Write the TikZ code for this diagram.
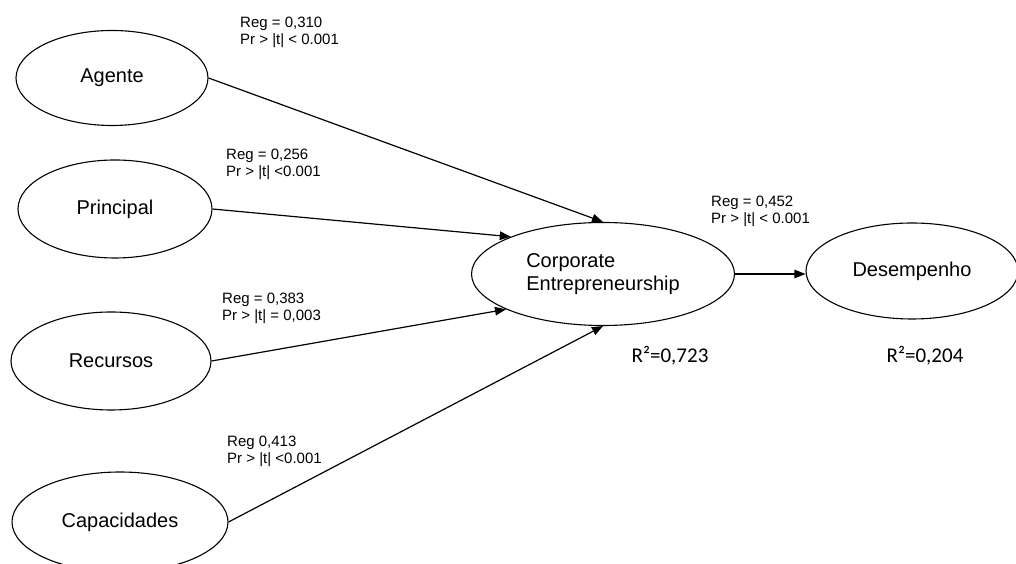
\documentclass[tikz,border=0pt]{standalone}
\usepackage{fontspec}
\setmainfont{Liberation Sans}
\newfontfamily\rfont{Carlito}
\usetikzlibrary{shapes.geometric,arrows.meta}
\begin{document}
\begin{tikzpicture}[x=1pt,y=1pt,
  latent/.style={draw,ellipse,line width=1.1pt,inner sep=0pt,font=\fontsize{20}{23.5}\selectfont},
  path/.style={line width=1.2pt,-{Triangle[length=11pt,width=8.5pt]}},
  coef/.style={anchor=north west,inner sep=0pt,align=left,font=\fontsize{15}{17.3}\selectfont},
  rsq/.style={inner sep=0pt,font=\rfont\fontsize{21}{24}\selectfont}]
\useasboundingbox (0,0) rectangle (1016,564);
\node[latent,minimum width=192pt,minimum height=95pt] (ag) at (112,486) {Agente};
\node[latent,minimum width=194pt,minimum height=98pt] (pr) at (115,355) {Principal};
\node[latent,minimum width=200pt,minimum height=98pt] (re) at (111,203) {Recursos};
\node[latent,minimum width=216pt,minimum height=100pt] (ca) at (120,42) {Capacidades};
\node[latent,minimum width=263pt,minimum height=103pt,align=left] (ce) at (603,290) {Corporate\\Entrepreneurship};
\node[latent,minimum width=212pt,minimum height=96pt] (de) at (912,293) {Desempenho};
\draw[path] (ag.east) -- (ce.north);
\draw[path] (pr.east) -- (ce.158);
\draw[path] (re.east) -- (ce.200);
\draw[path] (ca.east) -- (ce.south);
\draw[path] (ce.east) -- (ce.east -| de.west);
\node[coef] (l1) at (240,547) {Reg = 0,310\\Pr > |t| < 0.001};
\node[coef] (l2) at (226,415) {Reg = 0,256\\Pr > |t| <0.001};
\node[coef] (l3) at (222,271) {Reg = 0,383\\Pr > |t| = 0,003};
\node[coef] (l4) at (227,128) {Reg 0,413\\Pr > |t| <0.001};
\node[coef] (l5) at (711,368) {Reg = 0,452\\Pr > |t| < 0.001};
\node[rsq] (r1) at (670,208) {R²=0,723};
\node[rsq] (r2) at (925,208) {R²=0,204};
\end{tikzpicture}
\end{document}
